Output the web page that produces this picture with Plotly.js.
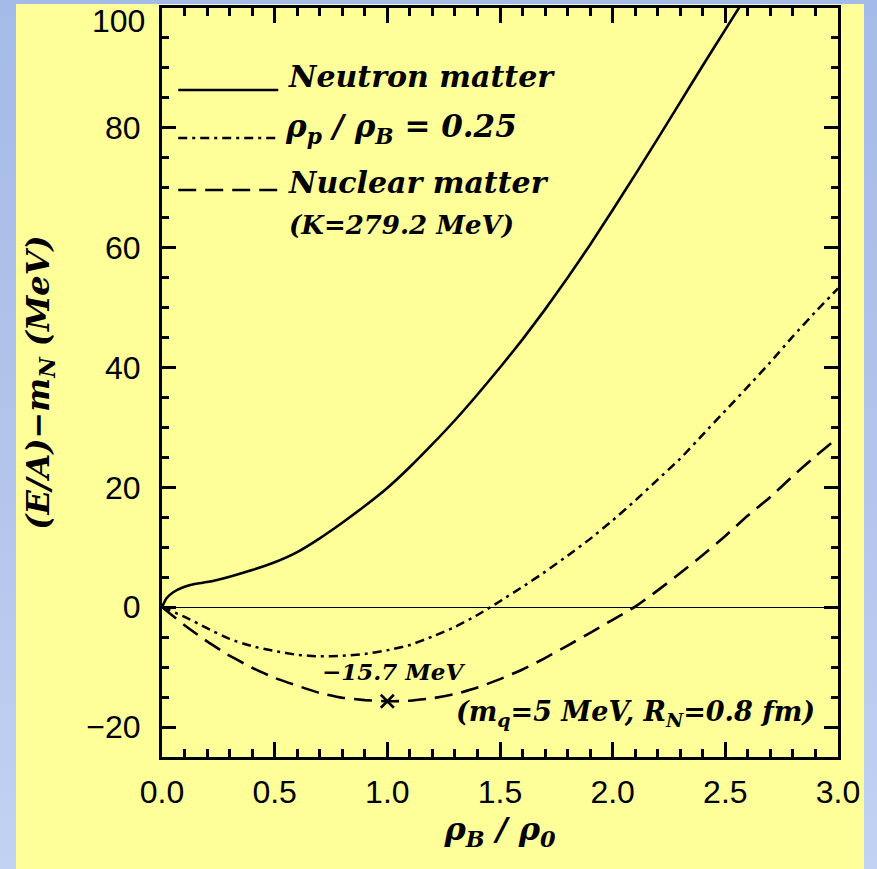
<!DOCTYPE html>
<html>
<head>
<meta charset="utf-8">
<script src="https://cdn.plot.ly/plotly-3.0.1.min.js"></script>
<style>
  html, body { margin: 0; padding: 0; width: 877px; height: 869px; overflow: hidden;
    background: linear-gradient(to bottom, #a4bae8 0%, #b4c6ec 60%, #c2d2f2 100%); }
  #chart { position: absolute; left: 16px; top: 4px; width: 848px; height: 865px; }
</style>
</head>
<body>
<div id="chart"></div>
<script>
// ---- data ----
const neutronRho = [0, 0.02, 0.05, 0.1, 0.15, 0.2, 0.3, 0.4, 0.5, 0.6, 0.7, 0.8, 0.9, 1.0, 1.1, 1.2, 1.3, 1.4, 1.5, 1.6, 1.7, 1.8, 1.9, 2.0, 2.1, 2.2, 2.3, 2.4, 2.5, 2.6];
const neutronE   = [0, 1.5, 2.5, 3.4, 3.9, 4.2, 5.1, 6.2, 7.5, 9.2, 11.5, 14.1, 16.9, 19.9, 23.4, 27.2, 31.2, 35.5, 40.0, 44.7, 49.7, 55.0, 60.5, 66.3, 72.2, 78.2, 84.3, 90.4, 96.4, 102.4];

const asymRho = [0, 0.1, 0.2, 0.3, 0.4, 0.5, 0.6, 0.7, 0.8, 0.9, 1.0, 1.1, 1.2, 1.3, 1.4, 1.5, 1.6, 1.7, 1.8, 1.9, 2.0, 2.1, 2.2, 2.3, 2.4, 2.5, 2.6, 2.7, 2.8, 2.9, 3.0];
const asymE   = [0, -1.6, -3.5, -5.3, -6.5, -7.3, -7.95, -8.2, -8.1, -7.8, -7.2, -6.3, -4.9, -3.3, -1.3, 1.0, 3.4, 5.9, 8.6, 11.4, 14.5, 17.8, 21.3, 24.8, 28.8, 32.8, 36.8, 40.9, 45.2, 49.3, 53.2];

const nuclearRho = [0, 0.1, 0.2, 0.3, 0.4, 0.5, 0.6, 0.7, 0.8, 0.9, 1.0, 1.1, 1.2, 1.3, 1.4, 1.5, 1.6, 1.7, 1.8, 1.9, 2.0, 2.1, 2.2, 2.3, 2.4, 2.5, 2.6, 2.7, 2.8, 2.9, 3.0];
const nuclearE   = [0, -3.0, -5.7, -8.1, -10.1, -11.8, -13.1, -14.3, -15.1, -15.5, -15.7, -15.6, -15.2, -14.5, -13.4, -12.0, -10.4, -8.5, -6.4, -4.3, -2.1, 0.1, 2.8, 5.7, 8.7, 11.9, 15.3, 18.4, 21.9, 25.2, 28.3];

const saturationRho = [1.0];
const saturationE   = [-15.7];

const legendLabels = ["Neutron matter", "ρ<sub>p</sub> / ρ<sub>B</sub> = 0.25", "Nuclear matter", "(K=279.2 MeV)"];
const saturationLabel = "−15.7 MeV";
const paramLabel = "(m<sub>q</sub>=5 MeV, R<sub>N</sub>=0.8 fm)";
const xTitle = "ρ<sub>B</sub> / ρ<sub>0</sub>";
const yTitle = "(E/A)−m<sub>N</sub> (MeV)";
const yTopLabel = "100";

// ---- styles ----
function serif(size) { return {family: "DejaVu Serif", size: size, color: "#000", style: "italic", weight: "bold"}; }
const DASHDOT = "9px,5px,3px,5px";
const DASH = "18px,9px";
const tickFont = {family: "Liberation Sans, Arial, sans-serif", size: 32, color: "#000"};

const traces = [
  {x: neutronRho, y: neutronE, mode: "lines", name: "Neutron matter",
   line: {color: "#000", width: 2.6, shape: "spline", smoothing: 0.5}},
  {x: asymRho, y: asymE, mode: "lines", name: "ρp/ρB = 0.25",
   line: {color: "#000", width: 2.5, dash: DASHDOT, shape: "spline", smoothing: 0.5}},
  {x: nuclearRho, y: nuclearE, mode: "lines", name: "Nuclear matter",
   line: {color: "#000", width: 2.6, dash: DASH, shape: "spline", smoothing: 0.5}},
  {x: saturationRho, y: saturationE, mode: "markers", name: "saturation",
   marker: {symbol: "x-thin", size: 13, color: "#000", line: {color: "#000", width: 2.6}}}
];

// legend drawn in plot-area (paper) fractions
const legX0 = 0.024, legX1 = 0.172, legTextX = 0.183;
const legRows = [0.8906, 0.8265, 0.7570];
const legDashes = ["solid", DASHDOT, DASH];
const shapes = legRows.map((yy, i) => ({
  type: "line", xref: "paper", yref: "paper", x0: legX0, x1: legX1, y0: yy, y1: yy,
  line: {color: "#000", width: 2.6, dash: legDashes[i]}
}));

const annotations = [
  {text: legendLabels[0], x: legTextX, y: 0.9085, xanchor: "left", yanchor: "middle", font: serif(30)},
  {text: legendLabels[1], x: legTextX - 0.004, y: 0.839, xanchor: "left", yanchor: "middle", font: serif(31)},
  {text: legendLabels[2], x: legTextX, y: 0.7665, xanchor: "left", yanchor: "middle", font: serif(30)},
  {text: legendLabels[3], x: legTextX + 0.002, y: 0.710, xanchor: "left", yanchor: "middle", font: serif(26)},
  {text: saturationLabel, x: 0.342, y: 0.1135, xanchor: "center", yanchor: "middle", font: serif(23)},
  {text: paramLabel, x: 0.70, y: 0.0575, xanchor: "center", yanchor: "middle", font: serif(27)},
  // top y tick label, pushed down inside the window as in the reference
  {text: yTopLabel, x: -0.022, y: 0.9826, xanchor: "right", yanchor: "middle", font: tickFont}
].map(a => Object.assign({xref: "paper", yref: "paper", showarrow: false}, a));

const layout = {
  width: 848, height: 865,
  margin: {l: 146, r: 26, t: 4, b: 112},
  paper_bgcolor: "#ffff99", plot_bgcolor: "#ffff99",
  showlegend: false,
  xaxis: {
    range: [0, 3], tickmode: "linear", tick0: 0, dtick: 0.5, tickformat: ".1f",
    ticks: "inside", ticklen: 15, tickwidth: 3, tickcolor: "#000",
    minor: {dtick: 0.1, ticks: "inside", ticklen: 8, tickwidth: 2.5, tickcolor: "#000"},
    showline: true, linecolor: "#000", linewidth: 3, mirror: "ticks",
    showgrid: false, zeroline: false, tickfont: tickFont, ticklabelstandoff: 5,
    title: {text: xTitle, font: serif(32), standoff: 8}
  },
  yaxis: {
    range: [-25, 100], tickmode: "linear", tick0: 0, dtick: 20,
    labelalias: {"100": " "},
    ticks: "inside", ticklen: 14, tickwidth: 3, tickcolor: "#000",
    minor: {dtick: 5, ticks: "inside", ticklen: 7, tickwidth: 2.5, tickcolor: "#000"},
    showline: true, linecolor: "#000", linewidth: 3, mirror: "ticks",
    showgrid: false, zeroline: true, zerolinecolor: "#000", zerolinewidth: 1,
    tickfont: tickFont, ticklabelstandoff: 12,
    title: {text: yTitle, font: serif(32), standoff: 28}
  },
  shapes: shapes,
  annotations: annotations
};

Plotly.newPlot("chart", traces, layout, {displayModeBar: false});
</script>
</body>
</html>
